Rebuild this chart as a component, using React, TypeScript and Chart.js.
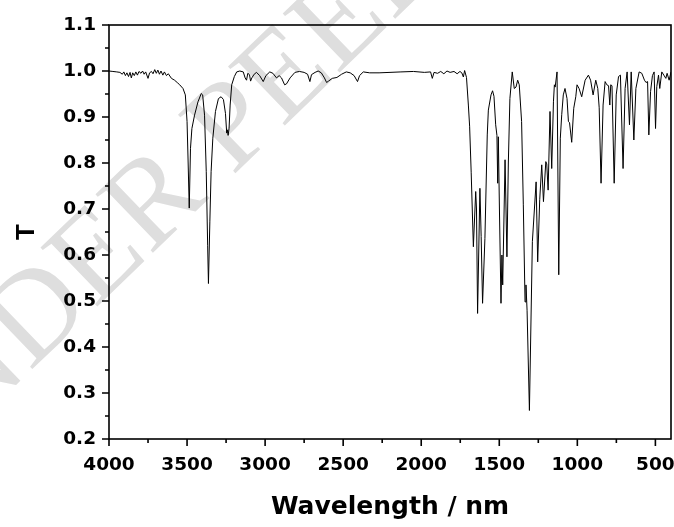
import React, { useEffect, useRef } from "react";
import { Chart, registerables } from "chart.js";

Chart.register(...registerables);

// ---- data ----
const wavenumbers: number[] = [
  4000, 3975, 3950, 3930, 3915, 3905, 3895, 3885, 3875, 3865, 3857, 3848, 3838, 3828, 3818, 3808,
  3795, 3785, 3775, 3765, 3750, 3740, 3728, 3718, 3707, 3697, 3687, 3677, 3667, 3655, 3645, 3632,
  3620, 3600, 3580, 3560, 3547, 3526, 3511, 3500, 3493, 3486, 3478, 3469, 3452, 3430, 3409, 3400,
  3388, 3377, 3368, 3363, 3354, 3346, 3335, 3318, 3299, 3282, 3267, 3254, 3246, 3242, 3237, 3231,
  3224, 3214, 3197, 3182, 3162, 3140, 3128, 3119, 3111, 3100, 3093, 3085, 3070, 3055, 3035, 3012,
  2995, 2970, 2950, 2927, 2910, 2895, 2875, 2863, 2840, 2809, 2780, 2750, 2728, 2713, 2703, 2680,
  2660, 2640, 2620, 2606, 2594, 2570, 2540, 2510, 2480, 2455, 2430, 2408, 2395, 2371, 2330, 2270,
  2200, 2130, 2050, 1980, 1940, 1929, 1918, 1895, 1875, 1855, 1835, 1815, 1790, 1770, 1752, 1740,
  1730, 1722, 1710, 1698, 1690, 1680, 1666, 1651, 1646, 1639, 1624, 1616, 1607, 1592, 1577, 1570,
  1553, 1543, 1534, 1523, 1515, 1510, 1506, 1499, 1489, 1483, 1478, 1463, 1451, 1442, 1432, 1417,
  1404, 1393, 1382, 1372, 1357, 1346, 1335, 1329, 1322, 1307, 1288, 1264, 1254, 1241, 1228, 1217,
  1202, 1196, 1187, 1175, 1164, 1153, 1147, 1142, 1130, 1119, 1109, 1100, 1090, 1079, 1066, 1057,
  1050, 1036, 1023, 1010, 1002, 989, 972, 950, 929, 915, 899, 882, 869, 860, 848, 835,
  822, 811, 800, 792, 786, 778, 764, 751, 736, 724, 707, 694, 681, 666, 655, 638,
  625, 604, 587, 570, 560, 550, 542, 531, 519, 508, 499, 491, 480, 472, 459, 446,
  433, 425, 412, 400,
];

const transmittance: number[] = [
  1.0, 0.999, 0.998, 0.997, 0.993, 0.998, 0.99, 0.996, 0.988, 0.997, 0.985, 0.996, 0.99, 0.998, 0.991, 0.999,
  0.995, 1.0, 0.993, 0.998, 0.984, 0.996, 0.999, 0.994, 1.003, 0.995, 1.002, 0.993, 1.0, 0.991, 0.998, 0.99,
  0.994, 0.984, 0.98, 0.974, 0.97, 0.962, 0.948, 0.89, 0.8, 0.702, 0.832, 0.875, 0.904, 0.933, 0.951, 0.948,
  0.904, 0.781, 0.62, 0.538, 0.672, 0.781, 0.854, 0.912, 0.94, 0.944, 0.938, 0.908, 0.865, 0.872, 0.86, 0.875,
  0.926, 0.97, 0.988, 0.998, 1.0, 0.998, 0.985, 0.98, 0.995, 0.992, 0.978, 0.985, 0.993, 0.997, 0.99, 0.977,
  0.99, 0.998, 0.995, 0.985, 0.99, 0.985, 0.97, 0.972, 0.985, 0.997, 0.999, 0.997, 0.993, 0.977, 0.992, 0.997,
  1.0, 0.996, 0.985, 0.975, 0.978, 0.984, 0.986, 0.993, 0.998, 0.996, 0.99, 0.977, 0.99, 0.998, 0.996, 0.996,
  0.997, 0.998, 0.999, 0.997, 0.998, 0.984, 0.997, 0.995, 0.999, 0.994, 1.0, 0.997, 0.999, 0.994, 0.999, 0.996,
  0.987, 1.001, 0.986, 0.926, 0.88, 0.78, 0.618, 0.738, 0.7, 0.473, 0.745, 0.64, 0.495, 0.636, 0.861, 0.915,
  0.948, 0.957, 0.945, 0.883, 0.86, 0.756, 0.857, 0.7, 0.495, 0.6, 0.535, 0.807, 0.596, 0.8, 0.94, 0.998,
  0.962, 0.965, 0.98, 0.97, 0.89, 0.709, 0.498, 0.535, 0.48, 0.262, 0.629, 0.759, 0.585, 0.72, 0.796, 0.716,
  0.803, 0.798, 0.741, 0.912, 0.788, 0.933, 0.97, 0.965, 0.998, 0.557, 0.854, 0.905, 0.948, 0.962, 0.94, 0.89,
  0.888, 0.845, 0.919, 0.944, 0.97, 0.962, 0.944, 0.98, 0.991, 0.98, 0.948, 0.98, 0.962, 0.92, 0.756, 0.926,
  0.977, 0.97, 0.968, 0.926, 0.97, 0.968, 0.756, 0.948, 0.988, 0.991, 0.788, 0.962, 0.998, 0.883, 0.998, 0.85,
  0.962, 0.998, 0.995, 0.98, 0.975, 0.977, 0.861, 0.955, 0.99, 0.998, 0.875, 0.966, 0.991, 0.962, 0.998, 0.991,
  0.984, 0.995, 0.98, 0.998,
];

const xTickValues: number[] = [4000, 3500, 3000, 2500, 2000, 1500, 1000, 500];
const xMinorTickValues: number[] = [3750, 3250, 2750, 2250, 1750, 1250, 750];
const yTickValues: number[] = [0.2, 0.3, 0.4, 0.5, 0.6, 0.7, 0.8, 0.9, 1.0, 1.1];
const yMinorTickValues: number[] = [0.25, 0.35, 0.45, 0.55, 0.65, 0.75, 0.85, 0.95, 1.05];
const xTitle = "Wavelength / nm";
const yTitle = "T";
const watermarkText = "UNDER PEER REVIEW";

const framePlugin = {
  id: "frameTicks",
  afterDraw(chart: any) {
    const { ctx, chartArea: a, scales } = chart;
    const x = scales.x;
    const y = scales.y;
    ctx.save();
    ctx.strokeStyle = "#000";
    ctx.lineWidth = 1.6;
    ctx.strokeRect(a.left, a.top, a.right - a.left, a.bottom - a.top);
    ctx.beginPath();
    xTickValues.forEach((v) => {
      const px = x.getPixelForValue(v);
      ctx.moveTo(px, a.bottom);
      ctx.lineTo(px, a.bottom + 7);
    });
    xMinorTickValues.forEach((v) => {
      const px = x.getPixelForValue(v);
      ctx.moveTo(px, a.bottom);
      ctx.lineTo(px, a.bottom + 4);
    });
    yTickValues.forEach((v) => {
      const py = y.getPixelForValue(v);
      ctx.moveTo(a.left, py);
      ctx.lineTo(a.left - 7, py);
    });
    yMinorTickValues.forEach((v) => {
      const py = y.getPixelForValue(v);
      ctx.moveTo(a.left, py);
      ctx.lineTo(a.left - 4, py);
    });
    ctx.stroke();
    ctx.restore();
  },
};

const watermarkPlugin = {
  id: "watermark",
  beforeDraw(chart: any) {
    const { ctx } = chart;
    ctx.save();
    ctx.translate(-100, 497);
    ctx.rotate((-44 * Math.PI) / 180);
    ctx.font = "125px 'Liberation Serif'";
    ctx.fillStyle = "#dedede";
    ctx.textBaseline = "alphabetic";
    ctx.fillText(watermarkText, 0, 0);
    ctx.restore();
  },
};

export default function App() {
  const canvasRef = useRef<HTMLCanvasElement | null>(null);

  useEffect(() => {
    const canvas = canvasRef.current;
    if (!canvas) return;
    const tickFont = { family: "'DejaVu Sans'", weight: "bold" as const, size: 18.5 };
    const chart = new Chart(canvas, {
      type: "line",
      data: {
        datasets: [
          {
            data: wavenumbers.map((w, i) => ({ x: w, y: transmittance[i] })),
            borderColor: "#000",
            borderWidth: 1,
            pointRadius: 0,
            tension: 0,
            fill: false,
          },
        ],
      },
      options: {
        responsive: false,
        animation: false,
        devicePixelRatio: 1,
        layout: { padding: { left: 0, right: 3, top: 25, bottom: 0 } },
        plugins: { legend: { display: false }, tooltip: { enabled: false } },
        scales: {
          x: {
            type: "linear",
            reverse: true,
            min: 400,
            max: 4000,
            grid: { display: false, drawTicks: false },
            border: { display: false },
            afterBuildTicks: (scale: any) => {
              scale.ticks = xTickValues.map((v) => ({ value: v }));
            },
            afterFit: (scale: any) => {
              scale.height = 88;
              scale.paddingLeft = 0;
              scale.paddingRight = 0;
            },
            ticks: {
              autoSkip: false,
              maxRotation: 0,
              minRotation: 0,
              padding: 15,
              color: "#000",
              font: tickFont,
              callback: (v: any) => String(v),
            },
            title: {
              display: true,
              text: xTitle,
              color: "#000",
              font: { family: "'DejaVu Sans'", weight: "bold", size: 25 },
              padding: { top: 0, bottom: 5 },
            },
          },
          y: {
            type: "linear",
            min: 0.2,
            max: 1.1,
            grid: { display: false, drawTicks: false },
            border: { display: false },
            afterBuildTicks: (scale: any) => {
              scale.ticks = yTickValues.map((v) => ({ value: v }));
            },
            afterFit: (scale: any) => {
              scale.width = 109;
              scale.paddingTop = 0;
              scale.paddingBottom = 0;
            },
            ticks: {
              autoSkip: false,
              padding: 13,
              color: "#000",
              font: tickFont,
              callback: (v: any) => Number(v).toFixed(1),
            },
            title: {
              display: true,
              text: yTitle,
              color: "#000",
              font: { family: "'Liberation Sans'", weight: "bold", size: 26 },
              padding: { top: 11, bottom: 0 },
            },
          },
        },
      },
      plugins: [watermarkPlugin, framePlugin],
    });
    return () => chart.destroy();
  }, []);

  return (
    <div
      style={{
        position: "fixed",
        left: 0,
        top: 0,
        width: 674,
        height: 527,
        background: "#fff",
        overflow: "hidden",
      }}
    >
      <canvas ref={canvasRef} width={674} height={527} style={{ display: "block" }} />
    </div>
  );
}
